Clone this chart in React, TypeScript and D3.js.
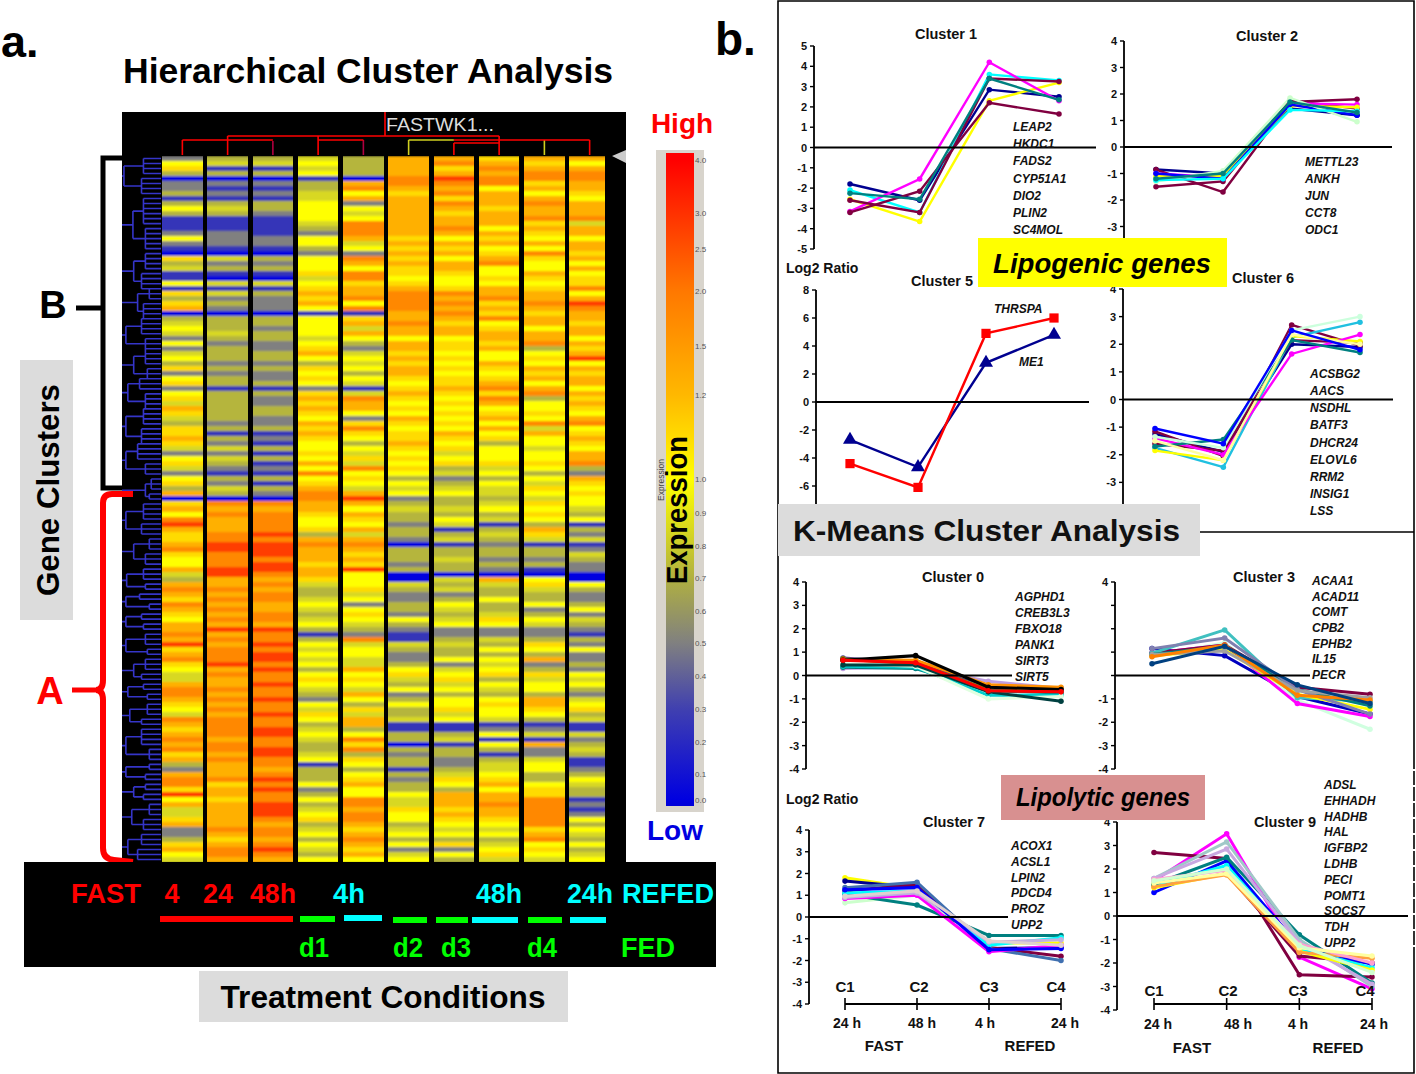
import * as d3 from 'd3';
import React from 'react';

// heatmap: one string per condition, one digit per gene row (colour level 0-9)
const conditions = ['FAST 4', 'FAST 24', 'FAST 48h', 'd1', 'REFED 4h', 'd2', 'd3', 'REFED 48h', 'd4', 'REFED 24h'];
const col1 = '2563022313' + '5311125210' + '6341151636' + '7034542524' + '5362562564' + '7643667642' + '56425637' + '0' + '6758976678' + '6557437876' + '8765778796' + '7865447887' + '6548767878' + '6732788695' + '744672236754';
const col2 = '3413021213' + '4311122210' + '4231041423' + '2033343233' + '3232331333' + '3332313242' + '43213243' + '0' + '8787778899' + '8889977878' + '7878797878' + '8897877878' + '7878888788' + '7877786776' + '777778767887';
const col3 = '3413021213' + '3211112210' + '3231041322' + '2033233223' + '3232231322' + '3322312131' + '31213132' + '0' + '8788889899' + '9899878788' + '7788798898' + '9989889889' + '8898899889' + '9887898988' + '999878878987';
const col4 = '4545133445' + '5554325532' + '5556456767' + '5155554567' + '5365652676' + '7657676556' + '57585678' + '8' + '7765563787' + '7767764334' + '5434531354' + '5453565432' + '5465345433' + '4513335235' + '345634535435';
const col5 = '3333078572' + '5458887452' + '8758867785' + '8167475324' + '5453541487' + '7526865354' + '64856547' + '9' + '7576574787' + '6769555645' + '2565432845' + '5447565475' + '3647735868' + '3653567558' + '878876787675';
const col6 = '7777887677' + '7777776767' + '6766567888' + '8778775776' + '7677656765' + '6576566765' + '65653545' + '2' + '3433233203' + '3323004322' + '3325321143' + '2235643523' + '5334113303' + '2331323354' + '465534535245';
const col7 = '7867987868' + '7677875767' + '5776556878' + '7876775665' + '6565667656' + '5656576564' + '56342345' + '3' + '3435413413' + '3433043423' + '5434522343' + '3524564535' + '5645113413' + '3223465377' + '767654536253';
const col8 = '6787885777' + '6777576756' + '7855657786' + '7685677675' + '5765678687' + '5675756355' + '56453544' + '3' + '4534134323' + '3232074335' + '3346522435' + '3545635435' + '6554125153' + '1344567577' + '877654534564';
const col9 = '7678867578' + '7786765758' + '6557656778' + '7677577835' + '6576757835' + '5658475545' + '56535465' + '4' + '6565376413' + '3231056433' + '5235422365' + '3723645537' + '7653124172' + '2455335668' + '888886785654';
const col10 = '7578877657' + '7784775776' + '7575668579' + '8776775767' + '9576775767' + '6578567657' + '78327656' + '5' + '5435132412' + '4322005322' + '3524321325' + '2232545324' + '5634114234' + '3112354331' + '212535435345';
const heatColumns = [col1, col2, col3, col4, col5, col6, col7, col8, col9, col10];
const levelValues = [0, 0.25, 0.5, 0.72, 0.85, 1.0, 1.1, 1.3, 1.8, 3.0];

// legend
const legendValues = [4.0, 3.0, 2.5, 2.0, 1.5, 1.2, 1.0, 0.9, 0.8, 0.7, 0.6, 0.5, 0.4, 0.3, 0.2, 0.1, 0.0];
const legendPositions = [160, 213, 249, 291, 346, 395, 479, 513, 546, 578, 611, 643, 676, 709, 742, 774, 800];
const rampValues = [0, 0.3, 0.5, 0.7, 0.85, 1.0, 1.2, 2.0, 4.0];
const rampColors = ['#0000e0', '#4040b0', '#808080', '#b0b040', '#d8d820', '#ffff00', '#ffb800', '#ff7800', '#ff0000'];

// dendrogram groups: first row, last row, distance, split row, sub distances
const rowGroups = [
  [0, 7, 0.05, 3, 0.55, 0.5], [8, 18, 0.28, 13, 0.55, 0.6], [19, 26, 0.3, 22, 0.6, 0.5],
  [26, 32, 0.4, 28, 0.7, 0.55], [32, 38, 0.1, 35, 0.5, 0.6], [38, 44, 0.3, 41, 0.6, 0.65],
  [44, 50, 0.15, 46, 0.45, 0.6], [50, 57, 0.1, 53, 0.55, 0.5], [57, 63, 0.1, 60, 0.4, 0.6],
  [64, 68, 0.6, 66, 0.75, 0.7], [69, 75, 0.1, 72, 0.55, 0.5], [76, 81, 0.3, 78, 0.7, 0.6],
  [82, 86, 0.12, 84, 0.55, 0.6], [87, 90, 0.1, 88, 0.45, 0.7], [91, 94, 0.1, 92, 0.5, 0.55],
  [95, 99, 0.1, 97, 0.6, 0.65], [100, 104, 0.3, 102, 0.6, 0.5], [105, 108, 0.15, 106, 0.55, 0.65],
  [109, 113, 0.2, 111, 0.65, 0.5], [114, 120, 0.1, 117, 0.5, 0.7], [121, 124, 0.1, 122, 0.7, 0.6],
  [125, 128, 0.3, 126, 0.6, 0.55], [129, 134, 0.25, 131, 0.7, 0.55], [135, 140, 0.15, 137, 0.5, 0.4],
];

// line charts
const cluster1Values = [[-1.8, -2.6, 2.85, 2.5], [-2.1, -3.2, 3.6, 3.3], [-2.55, -3.65, 2.3, 3.2], [-3.15, -1.55, 4.2, 2.3], [-2.6, -3.2, 3.4, 3.25], [-3.2, -2.15, 2.2, 1.65], [-2.25, -2.55, 3.4, 2.35]];
const cluster1Colors = ['#000090', '#00ffff', '#ffff00', '#ff00ff', '#800040', '#800040', '#008080'];
const cluster1Genes = ['LEAP2', 'HKDC1', 'FADS2', 'CYP51A1', 'DIO2', 'PLIN2', 'SC4MOL'];

const cluster2Values = [[-0.85, -1.0, 1.45, 1.2], [-0.85, -1.7, 1.7, 1.8], [-1.5, -1.3, 1.75, 1.45], [-1.0, -1.15, 1.65, 1.6], [-1.1, -1.1, 1.55, 1.5], [-1.0, -1.2, 1.6, 1.2], [-1.3, -0.9, 1.85, 0.95], [-1.25, -1.2, 1.4, 1.35], [-1.2, -1.0, 1.7, 1.3]];
const cluster2Colors = ['#000090', '#800040', '#800040', '#ff00ff', '#ffff00', '#0000ff', '#ccffcc', '#00ffff', '#008080'];
const cluster2Genes = ['METTL23', 'ANKH', 'JUN', 'CCT8', 'ODC1'];

const cluster5Values = [[-2.7, -4.65, 2.8, 4.8], [-4.4, -6.1, 4.9, 6.0]];
const cluster5Colors = ['#000090', '#ff0000'];
const cluster5Genes = ['ME1', 'THRSPA'];

const cluster6Values = [[-1.25, -1.9, 2.0, 1.9], [-1.15, -2.05, 2.7, 1.95], [-1.6, -1.85, 2.15, 2.05], [-1.75, -2.45, 2.25, 2.8], [-1.85, -2.2, 2.3, 2.1], [-1.4, -2.0, 1.65, 2.35], [-1.7, -1.45, 2.15, 1.7], [-1.35, -1.75, 2.5, 3.0], [-1.5, -2.2, 2.35, 2.0], [-1.05, -1.6, 2.5, 1.8]];
const cluster6Colors = ['#000090', '#800040', '#800040', '#20c0e0', '#ffff00', '#ff00ff', '#008080', '#ccffdd', '#ffffa0', '#0000ff'];
const cluster6Genes = ['ACSBG2', 'AACS', 'NSDHL', 'BATF3', 'DHCR24', 'ELOVL6', 'RRM2', 'INSIG1', 'LSS'];

const cluster0Values = [[0.3, 0.35, -0.25, -0.55], [0.75, 0.55, -0.45, -0.55], [0.7, 0.65, -0.4, -0.5], [0.7, 0.5, -0.6, -0.7], [0.35, 0.3, -0.65, -0.75], [0.4, 0.35, -0.85, -0.85], [0.5, 0.4, -1.0, -0.9], [0.45, 0.45, -0.7, -1.1], [0.65, 0.85, -0.5, -0.6], [0.65, 0.55, -0.65, -0.7]];
const cluster0Colors = ['#c0a0e0', '#404090', '#ff9000', '#808000', '#008080', '#00cccc', '#e0ffe0', '#004040', '#000000', '#ff0000'];
const cluster0Genes = ['AGPHD1', 'CREB3L3', 'FBXO18', 'PANK1', 'SIRT3', 'SIRT5'];

const cluster3Values = [[1.15, 0.85, -0.9, -1.65], [0.85, 1.4, -1.05, -2.3], [0.95, 1.3, -1.2, -1.75], [0.95, 1.3, -0.5, -0.8], [0.95, 1.95, -0.95, -1.1], [0.85, 1.1, -0.8, -1.45], [0.9, 1.25, -0.6, -1.3], [1.15, 1.6, -0.6, -1.65], [0.9, 1.05, -0.65, -0.95], [0.8, 1.3, -0.85, -1.05], [0.5, 1.25, -0.4, -1.2]];
const cluster3Colors = ['#0000c0', '#d0ffe0', '#ff00ff', '#800040', '#40c0c0', '#ffff00', '#008080', '#8080b0', '#a0a0a0', '#ff8000', '#004080'];
const cluster3Genes = ['ACAA1', 'ACAD11', 'COMT', 'CPB2', 'EPHB2', 'IL15', 'PECR'];

const cluster7Values = [[1.8, 1.3, -1.2, -1.2], [1.65, 1.35, -1.45, -1.4], [1.2, 1.5, -1.4, -1.8], [1.35, 1.6, -1.45, -2.0], [0.65, 1.0, -1.2, -1.0], [1.05, 0.55, -0.85, -0.85], [0.85, 1.0, -1.6, -1.3], [1.1, 1.2, -1.3, -0.95], [0.9, 1.1, -1.15, -1.05], [1.25, 1.35, -1.5, -1.45], [0.95, 1.2, -1.1, -1.3]];
const cluster7Colors = ['#ffff00', '#000090', '#800040', '#4070b0', '#ccffcc', '#008080', '#ff00ff', '#00ffff', '#c0b0e0', '#0000ff', '#e0d0d0'];
const cluster7Genes = ['ACOX1', 'ACSL1', 'LPIN2', 'PDCD4', 'PROZ', 'UPP2'];

const cluster9Values = [[1.5, 3.5, -1.75, -3.1], [2.7, 2.45, -2.5, -2.6], [1.3, 1.8, -1.7, -2.0], [1.0, 2.35, -1.3, -2.05], [1.3, 2.15, -1.4, -2.2], [1.35, 2.5, -0.8, -2.85], [1.6, 3.15, -1.0, -3.0], [1.6, 2.85, -1.15, -2.9], [1.2, 1.8, -1.5, -2.3], [1.25, 1.75, -1.55, -1.8], [1.55, 1.95, -1.2, -2.0], [1.4, 1.8, -1.35, -1.7], [1.5, 2.0, -1.25, -2.4]];
const cluster9Colors = ['#ff00ff', '#800040', '#800040', '#0000ff', '#00ffff', '#008080', '#a0c8c8', '#c8a8e0', '#ffff00', '#ffa040', '#ffa0d0', '#ffffa0', '#d0ffd0'];
const cluster9Genes = ['ADSL', 'EHHADH', 'HADHB', 'HAL', 'IGFBP2', 'LDHB', 'PECI', 'POMT1', 'SOCS7', 'TDH', 'UPP2'];

const timeLabels = ['C1', 'C2', 'C3', 'C4'];
const font = '"Liberation Sans", Arial, sans-serif';

const expressionColor = d3.scaleLinear<string>().domain(rampValues).range(rampColors);
const legendY = d3.scaleLinear().domain(legendValues).range(legendPositions);

function Cluster({ title, titleX, titleY, values, colors, genes, xs, axisX, domain, range, ticks, labels = ticks, zeroEnd, geneX, geneY, labelX, symbols, symbolSize = 24, lineWidth = 2.4 }: any) {
  const x = d3.scalePoint<number>().domain([0, 1, 2, 3]).range([xs[0], xs[1]]);
  const y = d3.scaleLinear().domain(domain).range(range);
  const line = d3.line<number>().x((_, i) => x(i)!).y(d => y(d));
  const tx = labelX ?? axisX - 7;
  const geneScale = genes && geneY ? d3.scalePoint<string>().domain(genes).range(geneY) : null;
  return (
    <g fontFamily={font}>
      {values.map((s: number[], i: number) => {
        const marker = d3.symbol().type(symbols ? symbols[i] : d3.symbolCircle).size(symbolSize);
        return (
          <g key={i}>
            <path d={line(s)!} fill="none" stroke={colors[i]} strokeWidth={lineWidth} />
            {s.map((v, j) => <path key={j} transform={`translate(${x(j)},${y(v)})`} d={marker()!} fill={colors[i]} />)}
          </g>
        );
      })}
      <line x1={axisX} x2={zeroEnd} y1={y(0)} y2={y(0)} stroke="#000" strokeWidth={1.8} />
      <line x1={axisX} x2={axisX} y1={range[1]} y2={range[0]} stroke="#000" strokeWidth={1.8} />
      {ticks.map((t: number) => <line key={t} x1={axisX - 4} x2={axisX} y1={y(t)} y2={y(t)} stroke="#000" strokeWidth={1.4} />)}
      {labels.map((t: number) => (
        <text key={t} x={tx} y={y(t) + 4} textAnchor="end" fontSize={11} fontWeight="bold" fill="#111">{t}</text>
      ))}
      <text x={titleX} y={titleY} textAnchor="middle" fontSize={14.5} fontWeight="bold" fill="#111">{title}</text>
      {geneScale && genes.map((g: string) => (
        <text key={g} x={geneX} y={geneScale(g)! + 4} fontSize={12} fontWeight="bold" fontStyle="italic" fill="#111">{g}</text>
      ))}
    </g>
  );
}

function TimeAxis({ xs, y, cY, cX, hourX, hourY, hours, fast, refed, labelY }: any) {
  const x = d3.scalePoint<string>().domain(timeLabels).range(xs);
  return (
    <g fontFamily={font} fontWeight="bold" fill="#111">
      <line x1={xs[0]} x2={xs[1]} y1={y} y2={y} stroke="#000" strokeWidth={2} />
      {timeLabels.map((c, i) => (
        <g key={c}>
          <line x1={x(c)} x2={x(c)} y1={y - 6} y2={y + 6} stroke="#000" strokeWidth={1.6} />
          <text x={cX[i]} y={cY} textAnchor="middle" fontSize={15}>{c}</text>
          <text x={hourX[i]} y={hourY} textAnchor="middle" fontSize={14}>{hours[i]}</text>
        </g>
      ))}
      <text x={fast} y={labelY} textAnchor="middle" fontSize={15}>FAST</text>
      <text x={refed} y={labelY} textAnchor="middle" fontSize={15}>REFED</text>
    </g>
  );
}

function Heatmap() {
  const x = d3.scaleBand<number>().domain(d3.range(heatColumns.length)).range([162, 610]).paddingInner(0.1);
  const y = d3.scaleBand<number>().domain(d3.range(col1.length)).range([156, 862]);
  const value = (c: string) => levelValues[+c];
  return (
    <g>
      <defs>
        <filter id="soft" x="0" y="0" width="1" height="1">
          <feGaussianBlur stdDeviation="0 1.1" />
        </filter>
      </defs>
      {heatColumns.map((col, i) => (
        <g key={i} filter="url(#soft)" shapeRendering="crispEdges">
          {col.split('').map((c, r) => (
            <rect key={r} x={x(i)} y={y(r)} width={x.bandwidth()} height={y.bandwidth() + 0.5} fill={expressionColor(value(c))} />
          ))}
        </g>
      ))}
      <rect x={605} y={156} width={21} height={706} fill="#000" />
    </g>
  );
}

function Dendrogram() {
  const y = d3.scaleBand<number>().domain(d3.range(col1.length)).range([156, 862]);
  const dist = d3.scaleLinear().domain([0, 1]).range([122, 161]);
  const mid = (r: number) => y(r)! + y.bandwidth() / 2;
  const paths: string[] = [];
  rowGroups.forEach(([first, last, d, split, d1, d2]) => {
    const m1 = (mid(first) + mid(split)) / 2;
    const m2 = (mid(split + 1) + mid(last)) / 2;
    const top = (m1 + m2) / 2;
    paths.push(`M${dist(0)},${top}H${dist(d)}M${dist(d)},${m1}V${m2}`);
    paths.push(`M${dist(d)},${m1}H${dist(d1)}M${dist(d1)},${mid(first)}V${mid(split)}`);
    paths.push(`M${dist(d)},${m2}H${dist(d2)}M${dist(d2)},${mid(split + 1)}V${mid(last)}`);
    d3.range(first, split + 1).forEach(r => paths.push(`M${dist(d1)},${mid(r)}H161`));
    d3.range(split + 1, last + 1).forEach(r => paths.push(`M${dist(d2)},${mid(r)}H161`));
  });
  return <path d={paths.join('')} fill="none" stroke="#3535c8" strokeWidth={1.6} />;
}

function TopTree() {
  const x = d3.scaleBand<number>().domain(d3.range(heatColumns.length)).range([162, 610]).paddingInner(0.1);
  const cx = (i: number) => x(i)! + x.bandwidth() / 2;
  const leafTop = [140, 136, 141, 136, 140, 140, 143, 136, 140, 140];
  const leafColor = ['#ff0000', '#ff0000', '#b00040', '#ff0000', '#b00040', '#d0d020', '#ff0000', '#ff0000', '#d0d020', '#ff0000'];
  return (
    <g fill="none" strokeWidth={1.6}>
      {leafTop.map((t, i) => <line key={i} x1={cx(i)} x2={cx(i)} y1={t} y2={155} stroke={leafColor[i]} />)}
      <path d={`M${cx(1)},136H${cx(7)}`} stroke="#ff0000" />
      <path d={`M${cx(0)},140H${cx(2)}`} stroke="#ff0000" />
      <path d={`M${cx(3)},140H${cx(4)}`} stroke="#ff0000" />
      <path d={`M${cx(5)},140H${cx(6)}`} stroke="#d0d020" />
      <path d={`M${cx(6)},140H${cx(7)}`} stroke="#ff0000" />
      <path d={`M${cx(6)},143H${cx(7)}`} stroke="#ff0000" />
      <path d={`M${cx(7)},140H${cx(9)}`} stroke="#ff0000" />
      <line x1={385} x2={385} y1={112} y2={136} stroke="#ff0000" />
    </g>
  );
}

function Legend() {
  const stops = rampValues.map(v => ({ v, off: (legendY(v) - 153) / (806 - 153) }));
  return (
    <g fontFamily={font}>
      <defs>
        <linearGradient id="ramp" x1="0" x2="0" y1="0" y2="1">
          <stop offset="0" stopColor="#ff0000" />
          {stops.slice().reverse().map(s => <stop key={s.v} offset={s.off} stopColor={expressionColor(s.v)} />)}
          <stop offset="1" stopColor="#0000d8" />
        </linearGradient>
      </defs>
      <rect x={656} y={150} width={48} height={662} fill="#d8d4cc" />
      <rect x={666} y={153} width={28} height={653} fill="url(#ramp)" />
      {legendValues.map(v => (
        <text key={v} x={695} y={legendY(v) + 3} fontSize={8} fill="#555">{v.toFixed(1)}</text>
      ))}
      <text transform="translate(664,480) rotate(-90)" fontSize={8.5} fill="#444" textAnchor="middle">Expression</text>
      <text transform="translate(687,510) rotate(-90)" fontSize={30} fontWeight="bold" fill="#000" textAnchor="middle" textLength={148} lengthAdjust="spacingAndGlyphs">Expression</text>
      <text x={682} y={133} textAnchor="middle" fontSize={28} fontWeight="bold" fill="#ff0000">High</text>
      <text x={675} y={840} textAnchor="middle" fontSize={28} fontWeight="bold" fill="#0000e0">Low</text>
    </g>
  );
}

function ConditionBar() {
  const label = (t: string, x: number, y: number, fill: string, len: number) => (
    <text x={x} y={y} textAnchor="middle" fontSize={27} fontWeight="bold" fill={fill} textLength={len} lengthAdjust="spacingAndGlyphs">{t}</text>
  );
  const bar = (x1: number, x2: number, y: number, c: string) => <line x1={x1} x2={x2} y1={y} y2={y} stroke={c} strokeWidth={6} />;
  return (
    <g fontFamily={font}>
      <rect x={24} y={862} width={692} height={105} fill="#000" />
      {label('FAST', 106, 903, '#ff0000', 70)}
      {label('4', 172, 903, '#ff0000', 15)}
      {label('24', 218, 903, '#ff0000', 30)}
      {label('48h', 273, 903, '#ff0000', 46)}
      {label('4h', 349, 903, '#00ffff', 32)}
      {label('48h', 499, 903, '#00ffff', 46)}
      {label('24h', 590, 903, '#00ffff', 46)}
      {label('REFED', 668, 903, '#00ffff', 92)}
      {label('d1', 314, 957, '#00ff00', 30)}
      {label('d2', 408, 957, '#00ff00', 30)}
      {label('d3', 456, 957, '#00ff00', 30)}
      {label('d4', 542, 957, '#00ff00', 30)}
      {label('FED', 648, 957, '#00ff00', 54)}
      {bar(160, 293, 919, '#ff0000')}
      {bar(300, 335, 919, '#00ff00')}
      {bar(344, 382, 918, '#00ffff')}
      {bar(393, 427, 920, '#00ff00')}
      {bar(436, 468, 920, '#00ff00')}
      {bar(472, 518, 920, '#00ffff')}
      {bar(528, 562, 920, '#00ff00')}
      {bar(570, 606, 920, '#00ffff')}
    </g>
  );
}

export default function App() {
  const hoursLabels = ['24 h', '48 h', '4 h', '24 h'];
  return (
    <svg width={1416} height={1074} style={{ position: 'absolute', left: 0, top: 0, background: '#fff' }}>
      {/* panel a */}
      <g fontFamily={font} fontWeight="bold">
        <text x={1} y={57} fontSize={45} fill="#000">a.</text>
        <text x={715} y={55} fontSize={46} fill="#000">b.</text>
        <text x={123} y={83} fontSize={35} fill="#000" textLength={490} lengthAdjust="spacingAndGlyphs">Hierarchical Cluster Analysis</text>
      </g>
      <rect x={122} y={112} width={504} height={750} fill="#000" />
      <Heatmap />
      <Dendrogram />
      <TopTree />
      <text x={386} y={131} fontFamily={font} fontSize={18} fill="#ddd" textLength={108} lengthAdjust="spacingAndGlyphs">FASTWK1...</text>
      <path d="M612,156L626,150V163Z" fill="#ccc" />

      <path d="M122,158H103V488H122" fill="none" stroke="#000" strokeWidth={5} />
      <path d="M76,308H103" stroke="#000" strokeWidth={5} />
      <text x={53} y={318} textAnchor="middle" fontFamily={font} fontSize={38} fontWeight="bold">B</text>
      <path d="M133,494H112Q103,494 103,503V680Q103,690 96,690Q103,690 103,700V848Q103,859 114,860L133,862" fill="none" stroke="#ff0000" strokeWidth={6} />
      <path d="M72,690H96" stroke="#ff0000" strokeWidth={5} />
      <text x={50} y={704} textAnchor="middle" fontFamily={font} fontSize={38} fontWeight="bold" fill="#ff0000">A</text>
      <rect x={20} y={360} width={53} height={260} fill="#dcdcdc" />
      <text transform="translate(59,490) rotate(-90)" textAnchor="middle" fontFamily={font} fontSize={31} fontWeight="bold" textLength={212} lengthAdjust="spacingAndGlyphs">Gene Clusters</text>

      <Legend />
      <ConditionBar />
      <rect x={199} y={971} width={369} height={51} fill="#dcdcdc" />
      <text x={383} y={1008} textAnchor="middle" fontFamily={font} fontSize={32} fontWeight="bold" textLength={325} lengthAdjust="spacingAndGlyphs">Treatment Conditions</text>

      {/* panel b */}
      <path d="M1414,950V1073H778V1H1414V755" fill="none" stroke="#000" strokeWidth={1.6} />
      <line x1={1414} x2={1414} y1={755} y2={950} stroke="#000" strokeWidth={1.6} strokeDasharray="14 2" />
      <line x1={1200} x2={1414} y1={532} y2={532} stroke="#000" strokeWidth={1.4} />

      <Cluster title="Cluster 1" titleX={946} titleY={39} values={cluster1Values} colors={cluster1Colors} genes={cluster1Genes} geneX={1013} geneY={[127, 230]}
        xs={[850, 1059]} axisX={814} domain={[-5, 5]} range={[249, 46]} ticks={d3.range(-5, 6)} zeroEnd={1096} />
      <Cluster title="Cluster 2" titleX={1267} titleY={41} values={cluster2Values} colors={cluster2Colors} genes={cluster2Genes} geneX={1305} geneY={[162, 230]}
        xs={[1156, 1357]} axisX={1124} domain={[-4, 4]} range={[253, 41]} ticks={d3.range(-4, 5)} labels={d3.range(-3, 5)} zeroEnd={1392} />
      <Cluster title="Cluster 5" titleX={942} titleY={286} values={cluster5Values} colors={cluster5Colors} symbols={[d3.symbolTriangle, d3.symbolSquare]} symbolSize={85}
        xs={[850, 1054]} axisX={816} domain={[-8, 8]} range={[514, 290]} ticks={d3.range(-8, 9, 2)} labels={d3.range(-6, 9, 2)} zeroEnd={1089} />
      <text x={994} y={313} fontFamily={font} fontSize={12} fontWeight="bold" fontStyle="italic" fill="#111">{cluster5Genes[1]}</text>
      <text x={1019} y={366} fontFamily={font} fontSize={12} fontWeight="bold" fontStyle="italic" fill="#111">{cluster5Genes[0]}</text>
      <Cluster title="Cluster 6" titleX={1263} titleY={283} values={cluster6Values} colors={cluster6Colors} genes={cluster6Genes} geneX={1310} geneY={[374, 511]}
        xs={[1155, 1360]} axisX={1123} domain={[-4, 4]} range={[510, 289]} ticks={d3.range(-4, 5)} labels={d3.range(-3, 5)} zeroEnd={1393} />
      <Cluster title="Cluster 0" titleX={953} titleY={582} values={cluster0Values} colors={cluster0Colors} genes={cluster0Genes} geneX={1015} geneY={[597, 677]} lineWidth={3}
        xs={[843, 1061]} axisX={806} domain={[-4, 4]} range={[769, 582]} ticks={d3.range(-4, 5)} zeroEnd={1012} />
      <Cluster title="Cluster 3" titleX={1264} titleY={582} values={cluster3Values} colors={cluster3Colors} genes={cluster3Genes} geneX={1312} geneY={[581, 675]} lineWidth={3}
        xs={[1152, 1370]} axisX={1115} domain={[-4, 4]} range={[769, 582]} ticks={d3.range(-4, 5)} labels={[-4, -3, -2, -1, 4]} labelX={1108} zeroEnd={1310} />
      <Cluster title="Cluster 7" titleX={954} titleY={827} values={cluster7Values} colors={cluster7Colors} genes={cluster7Genes} geneX={1011} geneY={[846, 925]} lineWidth={3}
        xs={[845, 1061]} axisX={809} domain={[-4, 4]} range={[1004, 830]} ticks={d3.range(-4, 5)} zeroEnd={1008} />
      <Cluster title="Cluster 9" titleX={1285} titleY={827} values={cluster9Values} colors={cluster9Colors} genes={cluster9Genes} geneX={1324} geneY={[785, 943]} lineWidth={3}
        xs={[1154, 1372]} axisX={1117} domain={[-4, 4]} range={[1010, 822]} ticks={d3.range(-4, 5)} zeroEnd={1408} />

      <TimeAxis xs={[845, 1061]} y={1004} cY={992} cX={[845, 919, 989, 1056]} hourX={[847, 922, 985, 1065]} hourY={1028} hours={hoursLabels} fast={884} refed={1030} labelY={1051} />
      <TimeAxis xs={[1154, 1372]} y={1004} cY={996} cX={[1154, 1228, 1298, 1365]} hourX={[1158, 1238, 1298, 1374]} hourY={1029} hours={hoursLabels} fast={1192} refed={1338} labelY={1053} />

      <g fontFamily={font} fontWeight="bold">
        <text x={786} y={273} fontSize={14} fill="#111">Log2 Ratio</text>
        <text x={786} y={804} fontSize={14} fill="#111">Log2 Ratio</text>
        <rect x={978} y={238} width={249} height={49} fill="#ffff00" />
        <text x={1102} y={273} textAnchor="middle" fontSize={27} fontStyle="italic" fill="#000" textLength={218} lengthAdjust="spacingAndGlyphs">Lipogenic genes</text>
        <rect x={778} y={504} width={422} height={52} fill="#dcdcdc" />
        <text x={793} y={541} fontSize={30} fill="#111" textLength={387} lengthAdjust="spacingAndGlyphs">K-Means Cluster Analysis</text>
        <rect x={1001} y={775} width={204} height={45} fill="#d89090" />
        <text x={1103} y={806} textAnchor="middle" fontSize={25} fontStyle="italic" fill="#000" textLength={174} lengthAdjust="spacingAndGlyphs">Lipolytic genes</text>
      </g>
    </svg>
  );
}
